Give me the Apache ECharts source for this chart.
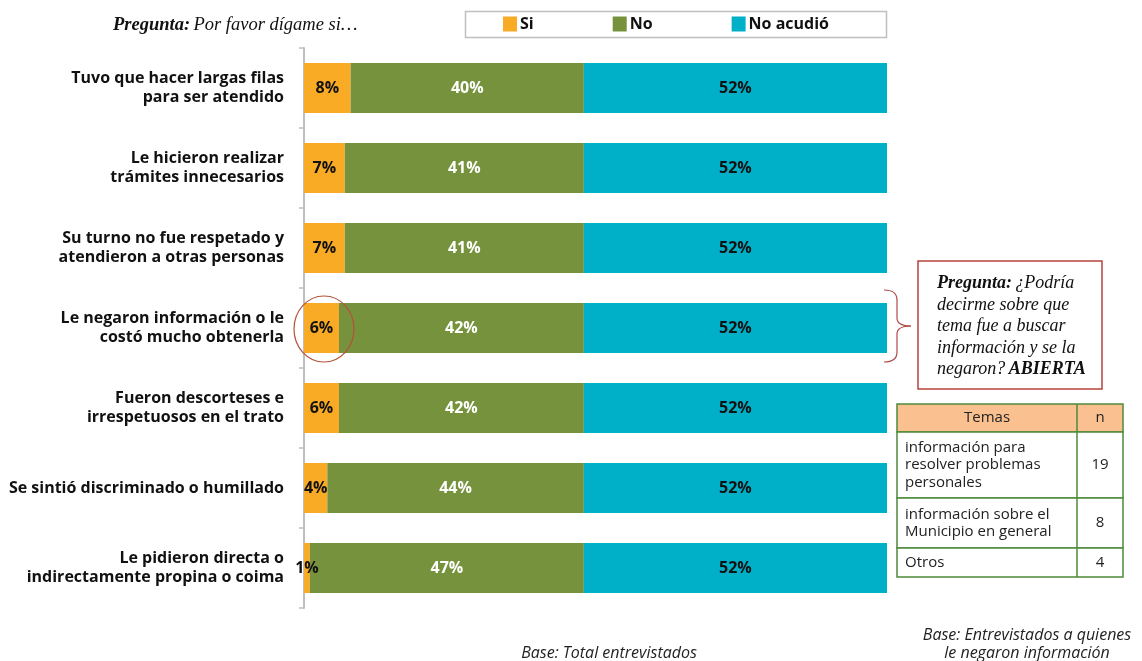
<!DOCTYPE html>
<html>
<head>
<meta charset="utf-8">
<script src="https://cdn.jsdelivr.net/npm/echarts@6/dist/echarts.min.js"></script>
<style>
  html, body { margin: 0; padding: 0; background: #fff; }
  #chart { width: 1142px; height: 661px; }
</style>
</head>
<body>
<div id="chart"></div>
<script>
'use strict';

// data
const arrCategory = [
    'Tuvo que hacer largas filas\npara ser atendido',
    'Le hicieron realizar\ntrámites innecesarios',
    'Su turno no fue respetado y\natendieron a otras personas',
    'Le negaron información o le\ncostó mucho obtenerla',
    'Fueron descorteses e\nirrespetuosos en el trato',
    'Se sintió discriminado o humillado',
    'Le pidieron directa o\nindirectamente propina o coima'
];
const arrSi = [8, 7, 7, 6, 6, 4, 1];
const arrNo = [40, 41, 41, 42, 42, 44, 47];
const arrNoAcudio = [52, 52, 52, 52, 52, 52, 52];

// side table
const arrTemas = [
    'información para\nresolver problemas\npersonales',
    'información sobre el\nMunicipio en general',
    'Otros'
];
const arrN = [19, 8, 4];

const chart = echarts.init(document.getElementById('chart'));

const FONT = '"Open Sans", Lato, sans-serif';
const SERIF = '"Liberation Serif", "DejaVu Serif", serif';

const mkSeries = (name, data, color, labelColor) => ({
    name: name,
    type: 'bar',
    stack: 'total',
    barWidth: 50,
    itemStyle: { color: color },
    label: {
        show: true,
        position: 'inside',
        formatter: '{c}%',
        color: labelColor,
        fontFamily: FONT,
        fontWeight: 'bold',
        fontSize: 16
    },
    data: data
});

// table graphic
const tblX = 897, tblW = 226, colSplit = 1077;
const rowH = [28, 66, 50, 29];
const tblGraphic = [];
let ty = 404;
const rowsTxt = [['Temas', 'n']].concat(arrTemas.map((t, i) => [t, String(arrN[i])]));
rowsTxt.forEach((row, i) => {
    const h = rowH[i];
    tblGraphic.push({
        type: 'rect',
        shape: { x: tblX, y: ty, width: tblW, height: h },
        style: { fill: i === 0 ? '#FAC090' : '#fff', stroke: '#4E8B3A', lineWidth: 1.5 }
    });
    tblGraphic.push({
        type: 'line',
        shape: { x1: colSplit, y1: ty, x2: colSplit, y2: ty + h },
        style: { stroke: '#4E8B3A', lineWidth: 1.5 }
    });
    tblGraphic.push({
        type: 'text',
        x: i === 0 ? (tblX + colSplit) / 2 : tblX + 8,
        y: ty + h / 2,
        style: {
            text: row[0],
            fontFamily: FONT,
            fontSize: 15,
            lineHeight: 17.5,
            fill: '#222',
            align: i === 0 ? 'center' : 'left',
            verticalAlign: 'middle'
        }
    });
    tblGraphic.push({
        type: 'text',
        x: (colSplit + tblX + tblW) / 2,
        y: ty + h / 2,
        style: {
            text: row[1],
            fontFamily: FONT,
            fontSize: 15,
            fill: '#222',
            align: 'center',
            verticalAlign: 'middle'
        }
    });
    ty += h;
});

// curly brace next to the 4th bar
const braceStyle = { fill: 'none', stroke: '#B04A46', lineWidth: 1.2 };
const braceGraphic = [
    { type: 'bezierCurve', shape: { x1: 884, y1: 290, cpx1: 897, cpy1: 290, x2: 897, y2: 300 }, style: braceStyle },
    { type: 'line', shape: { x1: 897, y1: 300, x2: 897, y2: 318 }, style: braceStyle },
    { type: 'bezierCurve', shape: { x1: 897, y1: 318, cpx1: 897, cpy1: 326, x2: 911, y2: 326 }, style: braceStyle },
    { type: 'bezierCurve', shape: { x1: 911, y1: 326, cpx1: 897, cpy1: 326, x2: 897, y2: 334 }, style: braceStyle },
    { type: 'line', shape: { x1: 897, y1: 334, x2: 897, y2: 352 }, style: braceStyle },
    { type: 'bezierCurve', shape: { x1: 897, y1: 352, cpx1: 897, cpy1: 362, x2: 884, y2: 362 }, style: braceStyle }
];

const option = {
    animation: false,
    backgroundColor: '#fff',
    legend: {
        data: ['Si', 'No', 'No acudió'],
        left: 503,
        top: 16,
        padding: 0,
        itemGap: 79,
        itemWidth: 14,
        itemHeight: 15,
        icon: 'rect',
        textStyle: {
            fontFamily: FONT,
            fontWeight: 'bold',
            fontSize: 16,
            color: '#111',
            padding: [0, 0, 0, -2]
        }
    },
    grid: {
        left: 304,
        right: 255,
        top: 48,
        height: 560
    },
    xAxis: {
        type: 'value',
        min: 0,
        max: 100,
        show: false
    },
    yAxis: {
        type: 'category',
        inverse: true,
        data: arrCategory,
        axisLine: { show: true, lineStyle: { color: '#BFBFBF', width: 2 } },
        axisTick: { show: true, length: 5, lineStyle: { color: '#BFBFBF', width: 1.5 } },
        axisLabel: {
            margin: 20,
            fontFamily: FONT,
            fontWeight: 'bold',
            fontSize: 16,
            lineHeight: 19,
            color: '#111',
            align: 'right'
        }
    },
    series: [
        mkSeries('Si', arrSi, '#F9AB25', '#111'),
        mkSeries('No', arrNo, '#76923C', '#fff'),
        mkSeries('No acudió', arrNoAcudio, '#00B0C8', '#111')
    ],
    graphic: [
        {
            type: 'rect',
            z: -1,
            shape: { x: 465.5, y: 11.5, width: 421, height: 26 },
            style: { fill: '#fff', stroke: '#BFBFBF', lineWidth: 1.5 }
        },
        {
            type: 'text',
            x: 113,
            y: 25,
            style: {
                text: '{b|Pregunta:} {i|Por favor dígame si…}',
                verticalAlign: 'middle',
                rich: {
                    b: { fontFamily: SERIF, fontStyle: 'italic', fontWeight: 'bold', fontSize: 18.5, fill: '#111' },
                    i: { fontFamily: SERIF, fontStyle: 'italic', fontSize: 18.5, fill: '#111' }
                }
            }
        },
        {
            type: 'ellipse',
            z: 100,
            shape: { cx: 324, cy: 329, rx: 30, ry: 33 },
            style: { fill: 'none', stroke: '#B4523A', lineWidth: 1.2 }
        },
        ...braceGraphic,
        {
            type: 'rect',
            shape: { x: 918, y: 261, width: 184, height: 128 },
            style: { fill: '#fff', stroke: '#B5413D', lineWidth: 1.5 }
        },
        {
            type: 'text',
            x: 937,
            y: 273,
            style: {
                text: '{b|Pregunta:} {i|¿Podría}\n{i|decirme sobre que}\n{i|tema fue a buscar}\n{i|información y se la}\n{i|negaron?} {b|ABIERTA}',
                lineHeight: 21.5,
                rich: {
                    b: { fontFamily: SERIF, fontStyle: 'italic', fontWeight: 'bold', fontSize: 18, fill: '#111', lineHeight: 21.5 },
                    i: { fontFamily: SERIF, fontStyle: 'italic', fontSize: 18, fill: '#111', lineHeight: 21.5 }
                }
            }
        },
        ...tblGraphic,
        {
            type: 'text',
            x: 609,
            y: 653,
            style: {
                text: 'Base: Total entrevistados',
                fontFamily: FONT,
                fontStyle: 'italic',
                fontSize: 16,
                fill: '#222',
                align: 'center',
                verticalAlign: 'middle'
            }
        },
        {
            type: 'text',
            x: 1027,
            y: 644,
            style: {
                text: 'Base: Entrevistados a quienes\nle negaron información',
                fontFamily: FONT,
                fontStyle: 'italic',
                fontSize: 16,
                lineHeight: 18,
                fill: '#222',
                align: 'center',
                verticalAlign: 'middle'
            }
        }
    ]
};

chart.setOption(option);
</script>
</body>
</html>
